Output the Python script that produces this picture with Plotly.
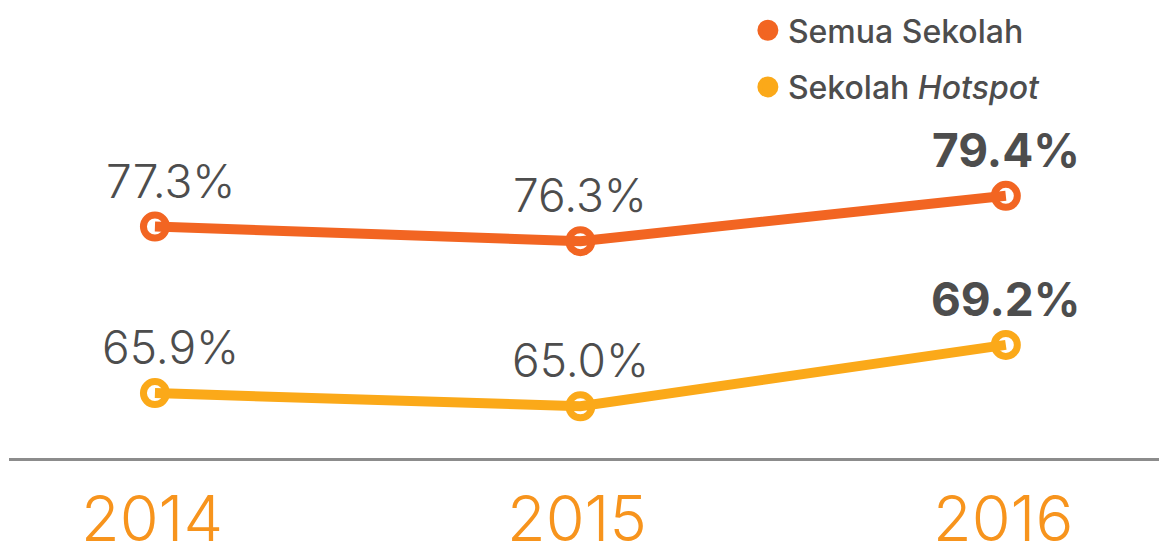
import plotly.graph_objects as go

years = [2014, 2015, 2016]
year_labels = ["2014", "2015", "2016"]
semua = [77.3, 76.3, 79.4]
hotspot = [65.9, 65.0, 69.2]
series_names = ["Semua Sekolah", "Sekolah <i>Hotspot</i>"]

C_SEMUA = "#F26522"
C_HOT = "#FBA919"
C_YEAR = "#F7941D"
C_TEXT = "#4D4D4D"
FONT = "Inter"

fig = go.Figure()

for vals, col, name in [(semua, C_SEMUA, series_names[0]), (hotspot, C_HOT, series_names[1])]:
    # markers first so the line is drawn on top of them
    fig.add_trace(go.Scatter(x=years, y=vals, mode="markers", showlegend=False,
                             marker=dict(size=23, color="white", line=dict(color=col, width=7)),
                             hoverinfo="skip"))
    fig.add_trace(go.Scatter(x=years, y=vals, mode="lines", showlegend=False,
                             line=dict(color=col, width=10), hoverinfo="skip"))

# legend entries
for col, name, grp in [(C_SEMUA, series_names[0], "a"), (C_HOT, series_names[1], "b")]:
    fig.add_trace(go.Scatter(x=[None], y=[None], mode="markers", name=name, legendgroup=grp,
                             marker=dict(size=16, color=col, line=dict(color=col, width=5))))

annotations = []
for vals in (semua, hotspot):
    for i, (x, v) in enumerate(zip(years, vals)):
        bold = i == len(years) - 1
        annotations.append(dict(
            x=x, y=v, xref="x", yref="y", text=f"{v:.1f}%", showarrow=False,
            yanchor="bottom", yshift=16, xshift=16 if i == 0 else 0,
            font=dict(family=FONT, size=46, color=C_TEXT, weight=700 if bold else 300),
        ))
for x, lab in zip(years, year_labels):
    annotations.append(dict(
        x=x, y=0, xref="x", yref="paper", text=lab, showarrow=False,
        yanchor="top", yshift=-20, xshift=-3,
        font=dict(family=FONT, size=63, color=C_YEAR, weight=300),
    ))

fig.update_layout(
    width=1159, height=550,
    margin=dict(l=9, r=0, t=0, b=92),
    paper_bgcolor="white", plot_bgcolor="white",
    xaxis=dict(range=[2013.657, 2016.36], showgrid=False, zeroline=False, showticklabels=False,
               showline=True, linecolor="#8C8C8C", linewidth=3, fixedrange=True),
    yaxis=dict(range=[61.46, 92.8], showgrid=False, zeroline=False, showticklabels=False,
               showline=False, fixedrange=True),
    legend=dict(x=0.6425, y=0.9935, xanchor="left", yanchor="top",
                font=dict(family=FONT, size=32, color=C_TEXT, weight=500),
                tracegroupgap=12, itemsizing="trace", bgcolor="rgba(0,0,0,0)"),
    annotations=annotations,
    showlegend=True,
)

fig.write_html("out.html", config={"displayModeBar": False},
               post_script="document.body.style.margin='0';")
